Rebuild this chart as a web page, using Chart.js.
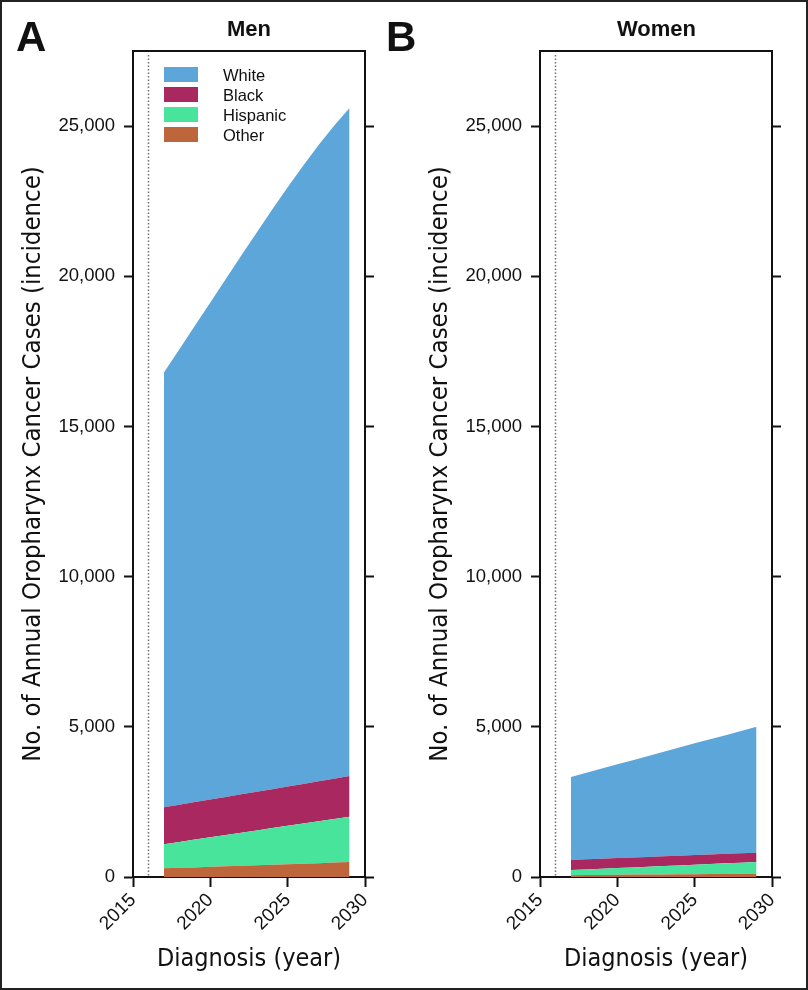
<!DOCTYPE html>
<html>
<head>
<meta charset="utf-8">
<script src="https://cdn.jsdelivr.net/npm/chart.js@4.4.1/dist/chart.umd.min.js"></script>
<style>
  html, body { margin: 0; padding: 0; background: #fff; }
  #page { position: relative; width: 808px; height: 990px; overflow: hidden; font-family: 'Liberation Sans', Arial, sans-serif; color: #111; }
  #frame { position: absolute; left: 0; top: 0; width: 808px; height: 990px; box-sizing: border-box; border: 2px solid #222; pointer-events: none; }
  canvas { position: absolute; top: 0; }
  .txt { position: absolute; line-height: 1; white-space: nowrap; }
  .letter { font-size: 42px; font-weight: bold; top: 16px; }
  .ptitle { font-size: 22px; font-weight: bold; top: 18px; text-align: center; }
  #legend { position: absolute; left: 164px; top: 67px; }
  .lrow { position: relative; height: 20px; width: 120px; }
  .lbox { position: absolute; left: 0; top: 0; width: 34px; height: 15px; }
  .ltxt { position: absolute; left: 59px; top: 0; font-size: 16.5px; line-height: 1; }
</style>
</head>
<body>
<div id="page">
  <canvas id="men" width="400" height="990" style="left:0px"></canvas>
  <canvas id="women" width="400" height="990" style="left:407px"></canvas>
  <div class="txt letter" style="left:16px">A</div>
  <div class="txt letter" style="left:386px">B</div>
  <div class="txt ptitle" style="left:133px; width:232px">Men</div>
  <div class="txt ptitle" style="left:540px; width:233px">Women</div>
  <div id="legend"></div>
  <div id="frame"></div>
</div>
<script>
// years of projected diagnoses
const years = [2017, 2018, 2019, 2020, 2021, 2022, 2023, 2024, 2025, 2026, 2027, 2028, 2029];

const raceNames = ['White', 'Black', 'Hispanic', 'Other'];
const raceColors = ['#5ca6d9', '#a8285f', '#49e49b', '#bd663b'];

// Men (annual cases)
const menWhite    = [14480, 15165, 15855, 16550, 17245, 17935, 18620, 19295, 19945, 20580, 21185, 21735, 22240];
const menBlack    = [1230, 1240, 1250, 1260, 1265, 1280, 1290, 1295, 1310, 1315, 1325, 1340, 1350];
const menHispanic = [800, 860, 925, 980, 1045, 1100, 1160, 1220, 1280, 1340, 1400, 1455, 1510];
const menOther    = [290, 305, 320, 340, 355, 375, 390, 410, 425, 445, 460, 480, 500];

// Women (annual cases)
const womenWhite    = [2760, 2880, 3000, 3120, 3240, 3360, 3480, 3600, 3720, 3840, 3950, 4070, 4190];
const womenBlack    = [340, 340, 335, 330, 330, 330, 325, 325, 320, 320, 315, 315, 310];
const womenHispanic = [170, 185, 205, 225, 240, 260, 280, 295, 315, 330, 355, 370, 390];
const womenOther    = [60, 65, 70, 75, 80, 80, 85, 90, 95, 100, 100, 105, 110];

const xTicks = [2015, 2020, 2025, 2030];
const yTicks = [0, 5000, 10000, 15000, 20000, 25000];
const xRange = [2015, 2030];
const yRange = [0, 27500];
const projectionYear = 2016;

Chart.defaults.font.family = "'Liberation Sans', Arial, sans-serif";
Chart.defaults.color = '#111';

const condensed = "'DejaVu Sans Condensed', 'Liberation Sans', sans-serif";

const dottedLine = {
  id: 'dottedLine',
  beforeDatasetsDraw(chart) {
    const { ctx, chartArea } = chart;
    const x = Math.round(chart.scales.x.getPixelForValue(projectionYear)) + 0.5;
    ctx.save();
    ctx.strokeStyle = '#707070';
    ctx.lineWidth = 1.5;
    ctx.setLineDash([1.5, 2]);
    ctx.beginPath();
    ctx.moveTo(x, chartArea.top + 4);
    ctx.lineTo(x, chartArea.bottom);
    ctx.stroke();
    ctx.restore();
  }
};

function setTicks(list) {
  return (scale) => { scale.ticks = list.map(v => ({ value: v })); };
}

const tickGrid = { display: true, drawOnChartArea: false, drawTicks: true, tickLength: 9, tickColor: '#111', tickWidth: 2 };
const axisBorder = { display: true, color: '#111', width: 2 };

function makePanel(id, series) {
  // bottom of the stack first: Other, Hispanic, Black, White
  const datasets = series.map((vals, i) => ({
    label: raceNames[i],
    data: years.map((yr, j) => ({ x: yr, y: vals[j] })),
    backgroundColor: raceColors[i],
    borderColor: raceColors[i],
    borderWidth: 0,
    pointRadius: 0,
    tension: 0
  })).reverse();
  datasets.forEach((d, i) => { d.fill = i === 0 ? 'origin' : '-1'; });

  new Chart(document.getElementById(id), {
    type: 'line',
    data: { datasets },
    options: {
      responsive: false,
      animation: false,
      layout: { padding: { left: 8, right: 26, top: 51, bottom: 8 } },
      plugins: { legend: { display: false }, tooltip: { enabled: false } },
      scales: {
        x: {
          type: 'linear', min: xRange[0], max: xRange[1],
          afterBuildTicks: setTicks(xTicks),
          afterFit: (s) => { s.height = 105; },
          grid: { ...tickGrid, tickLength: 10 },
          border: axisBorder,
          ticks: { font: { size: 19 }, minRotation: 45, maxRotation: 45, padding: 2, callback: (v) => String(v) },
          title: { display: true, text: 'Diagnosis (year)', font: { size: 25, family: condensed }, padding: { bottom: 8 } }
        },
        xTop: {
          type: 'linear', position: 'top', min: xRange[0], max: xRange[1],
          afterFit: (s) => { s.height = 0; },
          grid: { display: false, drawTicks: false },
          border: axisBorder,
          ticks: { display: false }
        },
        y: {
          stacked: true, min: yRange[0], max: yRange[1],
          afterBuildTicks: setTicks(yTicks),
          afterFit: (s) => { s.width = 125; },
          grid: tickGrid,
          border: axisBorder,
          ticks: { font: { size: 18.5 }, padding: 9, callback: (v) => v.toLocaleString('en-US') },
          title: { display: true, text: 'No. of Annual Oropharynx Cancer Cases (incidence)', font: { size: 25.5, family: condensed }, padding: { top: 10 } }
        },
        yRight: {
          position: 'right', min: yRange[0], max: yRange[1],
          afterBuildTicks: setTicks(yTicks),
          afterFit: (s) => { s.width = 9; },
          grid: tickGrid,
          border: axisBorder,
          ticks: { display: false }
        }
      }
    },
    plugins: [dottedLine]
  });
}

makePanel('men', [menWhite, menBlack, menHispanic, menOther]);
makePanel('women', [womenWhite, womenBlack, womenHispanic, womenOther]);

// legend (Men panel)
const legend = document.getElementById('legend');
raceNames.forEach((name, i) => {
  const row = document.createElement('div');
  row.className = 'lrow';
  row.innerHTML = '<span class="lbox" style="background:' + raceColors[i] + '"></span><span class="ltxt">' + name + '</span>';
  legend.appendChild(row);
});
</script>
</body>
</html>
